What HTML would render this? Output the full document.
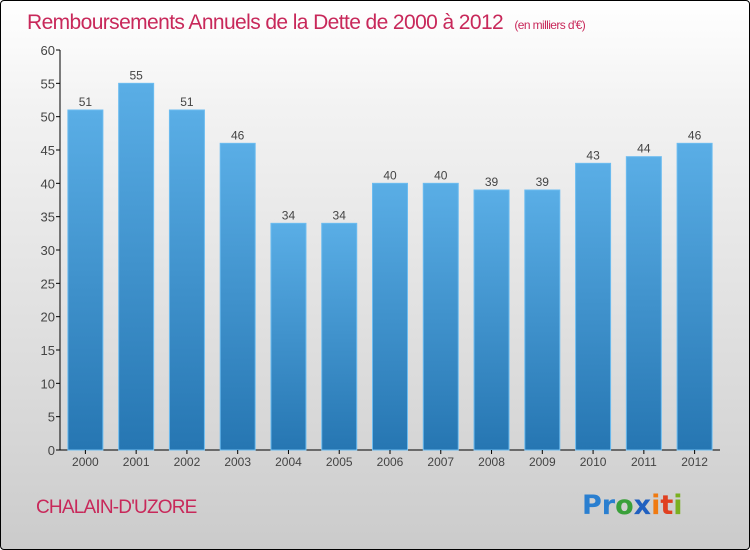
<!DOCTYPE html>
<html><head><meta charset="utf-8"><style>
body{margin:0;width:750px;height:550px;overflow:hidden;font-family:"Liberation Sans",sans-serif}
#frame{position:absolute;left:0;top:0;width:748px;height:548px;border:1px solid #000;border-radius:4px;background:linear-gradient(#fff,#f2f2f2 20%,#d6d6d6 80%,#cbcbcb)}
</style></head><body>
<div id="frame">
<svg width="750" height="550" style="position:absolute;left:-1px;top:-1px">
<defs><linearGradient id="bg" x1="0" y1="0" x2="0" y2="1"><stop offset="0" stop-color="#5aaee6"/><stop offset="1" stop-color="#2676b2"/></linearGradient></defs>
<text x="27" y="29" font-size="21" fill="#c8285a" style="letter-spacing:-0.6px">Remboursements Annuels de la Dette de 2000 à 2012 <tspan font-size="12" dx="6">(en milliers d'€)</tspan></text>
<g id="yaxis"></g>
<g id="bars"></g>
<text x="36" y="513" font-size="19" fill="#c8285a" style="letter-spacing:-0.8px">CHALAIN-D'UZORE</text>
<text x="582" y="514" font-size="27" font-family="DejaVu Sans" font-weight="bold"><tspan fill="#2a7fd0">Pr</tspan><tspan fill="#3aa03a">o</tspan><tspan fill="#2060c0">x</tspan><tspan fill="#f07a10">i</tspan><tspan fill="#e04020">t</tspan><tspan fill="#7ab020">i</tspan></text>
</svg></div>
<script>
const years=["2000","2001","2002","2003","2004","2005","2006","2007","2008","2009","2010","2011","2012"];
const values=[51,55,51,46,34,34,40,40,39,39,43,44,46];
const yTicks=[0,5,10,15,20,25,30,35,40,45,50,55,60];
const NS="http://www.w3.org/2000/svg";
const x0=60,x1=720,yb=450,yt=50,yMax=60;
const band=(x1-x0)/years.length, bw=35;
const y=v=>yb-(v/yMax)*(yb-yt);
const xc=i=>x0+band*(i+0.5);
function mk(t,a,p){const e=document.createElementNS(NS,t);for(const k in a)e.setAttribute(k,a[k]);p.appendChild(e);return e;}
const ya=document.getElementById('yaxis'),bg=document.getElementById('bars');
yTicks.forEach(t=>{
 const l=mk('line',{x1:x0-4,x2:x0,y1:y(t),y2:y(t),stroke:'#000'},ya);
 
 
 const tx=mk('text',{x:x0-5,y:y(t)+5,'text-anchor':'end','font-size':13,fill:'#444'},ya);
 tx.textContent=t;
 
 
});
values.forEach((v,i)=>{
 const r=mk('rect',{x:xc(i)-bw/2,y:y(v),width:bw,height:yb-y(v),fill:'url(#bg)',stroke:'#6cbcf0','stroke-width':1},bg);
 
 
 const t=mk('text',{x:xc(i),y:y(v)-4,'text-anchor':'middle','font-size':12,fill:'#444'},bg);
 t.textContent=v;
 
 
 const xl=mk('text',{x:xc(i),y:466,'text-anchor':'middle','font-size':12,fill:'#444'},bg);
 xl.textContent=years[i];
 
 
 const tk=mk('line',{x1:xc(i),x2:xc(i),y1:yb,y2:yb+4,stroke:'#000'},bg);
 
 
});
const ax=mk('line',{x1:x0,x2:x0,y1:yt,y2:yb,stroke:'#000'},ya);


const bx=mk('line',{x1:x0,x2:x1,y1:yb,y2:yb,stroke:'#000'},ya);


</script>
</body></html>
